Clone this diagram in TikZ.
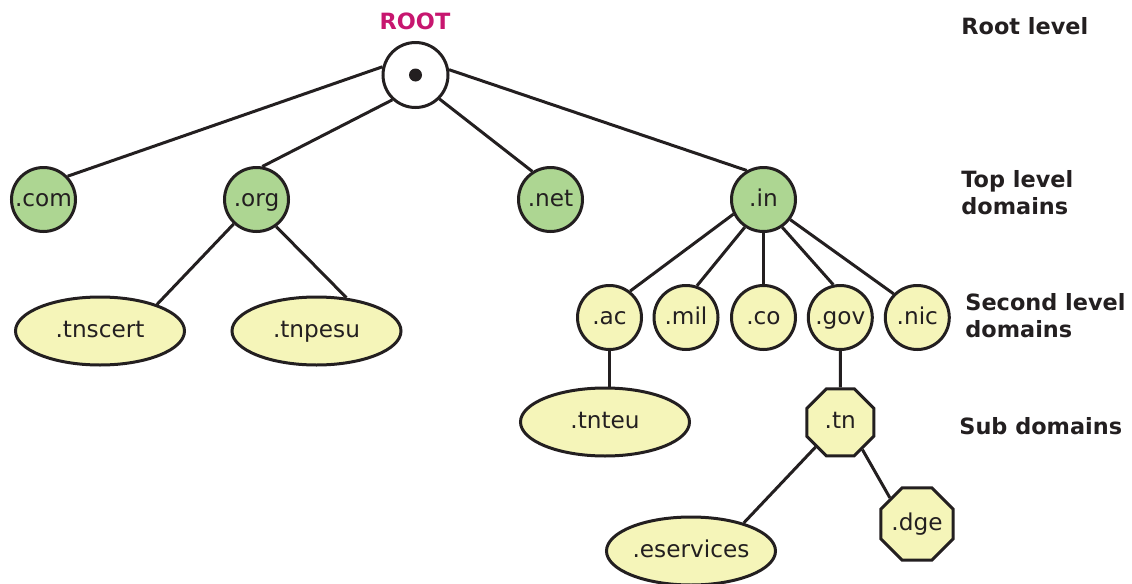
\documentclass[tikz,border=0pt]{standalone}
\usepackage{fontspec}
\setmainfont{DejaVu Sans}
\usetikzlibrary{shapes.geometric}
\definecolor{ink}{HTML}{231F20}
\definecolor{tldgreen}{HTML}{ADD692}
\definecolor{sldyellow}{HTML}{F5F5B9}
\definecolor{rootmag}{HTML}{C7166F}
\begin{document}
\begin{tikzpicture}[x=0.5pt,y=-0.5pt,
  every node/.style={font=\fontsize{11.2}{13.5}\selectfont, text=ink},
  link/.style={draw=ink, line width=1.5pt},
  domtext/.style={font=\fontsize{11.6}{13.5}\selectfont, text height=0.8em, text depth=0.15em},
  rootnode/.style={circle, draw=ink, line width=1.5pt, fill=white, minimum size=32.5pt, inner sep=0pt},
  tld/.style={domtext, circle, draw=ink, line width=1.5pt, fill=tldgreen, minimum size=32pt, inner sep=0pt},
  sld/.style={domtext, circle, draw=ink, line width=1.5pt, fill=sldyellow, minimum size=32pt, inner sep=0pt},
  oval/.style={domtext, ellipse, draw=ink, line width=1.5pt, fill=sldyellow, minimum width=84.5pt, minimum height=34pt, inner sep=0pt},
  octo/.style={domtext, regular polygon, regular polygon sides=8, draw=ink, line width=1.5pt, fill=sldyellow, minimum size=36.3pt, inner sep=0pt},
  levellabel/.style={anchor=west, align=left, inner sep=0pt, font=\fontsize{11.2}{13.5}\selectfont\bfseries}
]
\useasboundingbox (0,0) rectangle (1132,584);

% root
\node[rootnode] (root) at (415.5,75) {};
\fill[ink] (root.center) circle (3.25pt);
\node[font=\fontsize{11.2}{13.5}\selectfont\bfseries, text=rootmag] (rootlabel) at (415,21) {ROOT};

% top level
\node[tld] (com) at (43.5,199.5) {.com};
\node[tld] (org) at (256.5,199.5) {.org};
\node[tld] (net) at (550.5,199.5) {.net};
\node[tld] (in) at (763.5,199.5) {.in};

% second level
\node[oval] (tnscert) at (100,331) {.tnscert};
\node[oval] (tnpesu) at (316.5,331) {.tnpesu};
\node[sld] (ac) at (609.5,317.5) {.ac};
\node[sld] (mil) at (686,317.5) {.mil};
\node[sld] (co) at (763.5,317.5) {.co};
\node[sld] (gov) at (840.3,317.5) {.gov};
\node[sld] (nic) at (917.3,317.5) {.nic};

% sub domains
\node[oval] (tnteu) at (605,422) {.tnteu};
\node[octo] (tn) at (840.3,422.3) {.tn};
\node[octo] (dge) at (917,524) {.dge};
\node[oval] (eservices) at (691,551) {.eservices};

% connectors
\draw[link] (root.166) -- (com.44);
\draw[link] (root.227) -- (org.80);
\draw[link] (root.315) -- (net.123);
\draw[link] (root.9) -- (in.120);
\draw[link] (org.227) -- (tnscert.25);
\draw[link] (org.306) -- (tnpesu.48);
\draw[link] (in.206) -- (ac.52);
\draw[link] (in.236) -- (mil.71);
\draw[link] (in.south) -- (co.north);
\draw[link] (in.304) -- (gov.102);
\draw[link] (in.323) -- (nic.135);
\draw[link] (ac.south) -- (ac.south |- tnteu.north);
\draw[link] (gov.south) -- (tn.north);
\draw[link] (tn.225) -- (eservices.28);
\draw[link] (tn.309) -- (dge.136);

% level labels
\node[levellabel] (lroot) at (961,26) {Root level};
\node[levellabel] (ltop) at (961,192.5) {Top level\\domains};
\node[levellabel] (lsecond) at (965,315.5) {Second level\\domains};
\node[levellabel] (lsub) at (959,426) {Sub domains};
\end{tikzpicture}
\end{document}
